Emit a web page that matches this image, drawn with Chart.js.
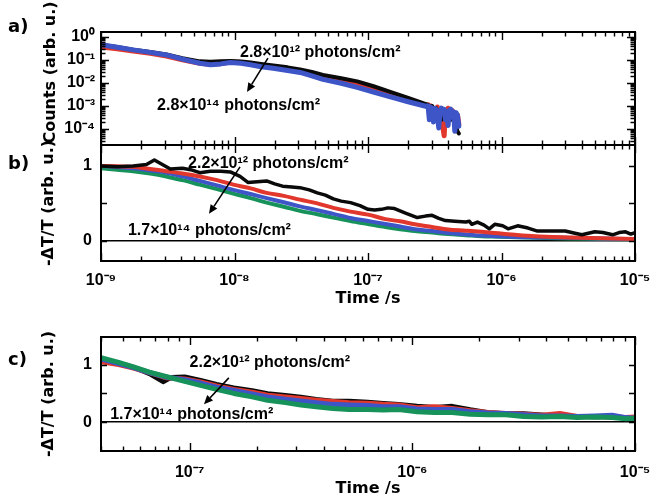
<!DOCTYPE html>
<html><head><meta charset="utf-8">
<script src="https://cdn.jsdelivr.net/npm/chart.js@4.4.1/dist/chart.umd.min.js"></script>
<style>
html,body{margin:0;padding:0;background:#fff;}
body{width:652px;height:500px;position:relative;overflow:hidden;}
.p{position:absolute;left:0;width:652px;}
canvas{display:block;}
</style></head><body>
<div class="p" style="top:0;height:145px"><canvas id="ca" width="652" height="145"></canvas></div>
<div class="p" style="top:135px;height:175px"><canvas id="cb" width="652" height="175"></canvas></div>
<div class="p" style="top:330px;height:170px"><canvas id="cc" width="652" height="170"></canvas></div>
<script>
// ================= DATA =================
// Panel a) counts vs time (s)
const aTime = [1.0e-9, 1.32e-9, 1.74e-9, 2.34e-9, 3.09e-9, 4.07e-9, 5.5e-9, 6.6e-9, 7.9e-9, 9.3e-9, 1.12e-8, 1.32e-8, 1.58e-8, 1.95e-8, 2.5e-8, 3.1e-8, 3.8e-8, 4.6e-8, 6.3e-8, 8.3e-8, 1.1e-7, 1.45e-7, 2.0e-7, 2.75e-7,
  2.82e-7, 2.88e-7, 2.95e-7, 3.02e-7, 3.09e-7, 3.16e-7, 3.24e-7, 3.31e-7, 3.39e-7, 3.47e-7, 3.55e-7, 3.63e-7, 3.72e-7, 3.80e-7, 3.89e-7, 3.98e-7, 4.07e-7, 4.17e-7, 4.27e-7, 4.37e-7, 4.47e-7, 4.57e-7, 4.68e-7, 4.79e-7];
const aBlack = [0.447, 0.355, 0.275, 0.219, 0.170, 0.117, 0.0851, 0.0813, 0.0851, 0.0891, 0.0832, 0.0759, 0.0661, 0.0562, 0.0468, 0.038, 0.0295, 0.0219, 0.0158, 0.0115, 0.00708, 0.00417, 0.00224, 0.00117,
  1.1e-3, 7.9e-4, 5.0e-4, 1.0e-3, 4.0e-4, 6.3e-4, 7.9e-4, 3.2e-4, 6.3e-4, 5.0e-4, 2.5e-4, 6.3e-4, 5.0e-4, 4.0e-4, 5.6e-4, 3.2e-4, 5.0e-4, 2.5e-4, 4.0e-4, 3.2e-4, 2.0e-4, 1.3e-4, 7.9e-5, 6.3e-5];
const aRed = [0.355, 0.302, 0.24, 0.191, 0.145, 0.1, 0.0708, 0.0631, 0.0692, 0.0794, 0.0759, 0.0661, 0.0562, 0.0479, 0.038, 0.0316, 0.0234, 0.0166, 0.0117, 0.00794, 0.00501, 0.00302, 0.00178, 0.00105,
  1.1e-3, 5.0e-4, 1.0e-3, 3.2e-4, 7.9e-4, 6.3e-4, 5.0e-4, 8.9e-4, 2.5e-4, 6.3e-4, 5.0e-4, 1.3e-4, 5.0e-5, 6.3e-4, 4.0e-4, 7.9e-4, 3.2e-4, 5.0e-4, 6.3e-4, 2.5e-4, 5.0e-4, 1.3e-4, 4.0e-4, 1.6e-4];
const aBlue = [0.447, 0.347, 0.269, 0.209, 0.162, 0.107, 0.0708, 0.0603, 0.0661, 0.0759, 0.0708, 0.0603, 0.0501, 0.0427, 0.0339, 0.0282, 0.02, 0.0141, 0.00955, 0.00631, 0.00398, 0.00251, 0.00151, 0.000933,
  1.0e-3, 2.5e-4, 8.9e-4, 6.3e-4, 2.0e-4, 7.9e-4, 7.1e-4, 4.0e-4, 1.1e-4, 6.3e-4, 7.9e-4, 5.0e-4, 7.1e-4, 2.5e-4, 5.6e-4, 1.4e-4, 6.3e-4, 7.1e-4, 3.2e-4, 5.6e-4, 7.9e-5, 5.0e-4, 4.0e-4, 1.3e-4];

// Panel b) -dT/T vs time (s)
const bTimeBlack = [1.0e-9, 1.32e-9, 1.74e-9, 2.19e-9, 2.51e-9, 2.88e-9, 3.31e-9, 4.07e-9, 4.68e-9, 5.5e-9, 6.6e-9, 7.9e-9, 9.3e-9, 1.1e-8, 1.26e-8, 1.48e-8, 1.74e-8, 2.0e-8, 2.29e-8, 2.69e-8, 3.09e-8, 3.63e-8, 4.17e-8, 4.79e-8, 5.5e-8, 6.3e-8, 7.4e-8, 8.7e-8, 1.0e-7, 1.12e-7, 1.26e-7, 1.41e-7, 1.58e-7, 1.91e-7, 2.34e-7, 2.69e-7, 3.02e-7, 3.39e-7, 3.8e-7, 4.47e-7, 5.4e-7, 5.75e-7, 6.0e-7, 6.6e-7, 7.4e-7, 8.1e-7, 8.9e-7, 1.02e-6, 1.12e-6, 1.32e-6, 1.58e-6, 1.86e-6, 2.4e-6, 3.0e-6, 3.55e-6, 4.0e-6, 5.0e-6, 5.75e-6, 6.8e-6, 7.6e-6, 8.5e-6, 9.3e-6, 1.0e-5];
const bBlack = [1.0, 0.99, 1.0, 1.02, 1.08, 1.02, 0.96, 0.97, 0.95, 0.91, 0.93, 0.93, 0.92, 0.86, 0.78, 0.79, 0.8, 0.76, 0.73, 0.72, 0.71, 0.68, 0.64, 0.61, 0.56, 0.53, 0.51, 0.47, 0.42, 0.41, 0.42, 0.44, 0.43, 0.37, 0.31, 0.33, 0.34, 0.3, 0.27, 0.26, 0.25, 0.26, 0.22, 0.25, 0.21, 0.16, 0.22, 0.2, 0.16, 0.2, 0.17, 0.13, 0.13, 0.13, 0.1, 0.08, 0.12, 0.11, 0.08, 0.11, 0.12, 0.09, 0.11];
const bTime = [1.0e-9, 1.32e-9, 1.74e-9, 2.34e-9, 3.09e-9, 4.07e-9, 5.5e-9, 7.4e-9, 9.8e-9, 1.32e-8, 1.74e-8, 2.34e-8, 3.09e-8, 4.17e-8, 5.5e-8, 7.4e-8, 1.0e-7, 1.35e-7, 1.74e-7, 2.24e-7, 3.02e-7, 3.98e-7, 5.4e-7, 7.1e-7, 9.5e-7, 1.26e-6, 1.78e-6, 3.16e-6, 5.6e-6, 1.0e-5];
const bRed = [1.0, 0.995, 0.99, 0.96, 0.93, 0.9, 0.86, 0.81, 0.75, 0.7, 0.64, 0.6, 0.55, 0.5, 0.44, 0.39, 0.35, 0.29, 0.26, 0.22, 0.185, 0.15, 0.135, 0.12, 0.1, 0.08, 0.06, 0.045, 0.035, 0.025];
const bBlue = [1.0, 0.985, 0.97, 0.94, 0.91, 0.86, 0.8, 0.74, 0.68, 0.625, 0.57, 0.515, 0.46, 0.41, 0.36, 0.305, 0.265, 0.225, 0.19, 0.155, 0.13, 0.105, 0.085, 0.07, 0.06, 0.05, 0.045, 0.04, 0.03, 0.02];
const bGreen = [0.97, 0.95, 0.93, 0.9, 0.86, 0.81, 0.75, 0.69, 0.63, 0.57, 0.51, 0.455, 0.4, 0.355, 0.31, 0.265, 0.225, 0.185, 0.155, 0.13, 0.11, 0.09, 0.075, 0.06, 0.055, 0.048, 0.04, 0.03, 0.025, 0.02];

// Panel c) -dT/T vs time (s)
const cTimeBlack = [4.0e-8, 4.8e-8, 5.6e-8, 6.6e-8, 7.6e-8, 8.3e-8, 9.5e-8, 1.12e-7, 1.32e-7, 1.58e-7, 1.91e-7, 2.24e-7, 2.69e-7, 3.16e-7, 3.7e-7, 4.4e-7, 5.2e-7, 6.3e-7, 7.4e-7, 8.7e-7, 1.05e-6, 1.26e-6, 1.51e-6, 1.82e-6, 2.19e-6, 2.63e-6, 3.16e-6, 3.8e-6, 4.6e-6, 5.5e-6, 6.6e-6, 7.9e-6, 9.1e-6, 1.0e-5];
const cBlack = [1.1, 1.03, 0.95, 0.84, 0.70, 0.78, 0.79, 0.73, 0.66, 0.6, 0.55, 0.5, 0.47, 0.44, 0.4, 0.37, 0.37, 0.35, 0.33, 0.31, 0.28, 0.26, 0.28, 0.22, 0.17, 0.15, 0.15, 0.13, 0.1, 0.1, 0.09, 0.1, 0.08, 0.07];
const cTime = [4.0e-8, 4.8e-8, 5.6e-8, 6.6e-8, 7.9e-8, 9.5e-8, 1.12e-7, 1.32e-7, 1.58e-7, 1.91e-7, 2.24e-7, 2.69e-7, 3.16e-7, 3.7e-7, 4.4e-7, 5.2e-7, 6.3e-7, 7.4e-7, 8.7e-7, 1.05e-6, 1.26e-6, 1.51e-6, 1.82e-6, 2.19e-6, 2.63e-6, 3.16e-6, 3.8e-6, 4.6e-6, 5.5e-6, 6.6e-6, 7.9e-6, 9.1e-6, 1.0e-5];
const cRed = [1.05, 1.0, 0.94, 0.86, 0.77, 0.75, 0.7, 0.63, 0.57, 0.52, 0.47, 0.44, 0.41, 0.38, 0.36, 0.34, 0.33, 0.31, 0.3, 0.25, 0.27, 0.24, 0.2, 0.17, 0.15, 0.14, 0.12, 0.15, 0.1, 0.1, 0.09, 0.08, 0.09];
const cBlue = [1.1, 1.02, 0.95, 0.86, 0.78, 0.74, 0.68, 0.61, 0.55, 0.49, 0.44, 0.4, 0.37, 0.34, 0.31, 0.3, 0.29, 0.27, 0.27, 0.23, 0.22, 0.22, 0.18, 0.16, 0.15, 0.13, 0.11, 0.11, 0.1, 0.11, 0.12, 0.08, 0.07];
const cGreen = [1.12, 1.04, 0.96, 0.87, 0.79, 0.71, 0.64, 0.57, 0.5, 0.44, 0.38, 0.34, 0.3, 0.27, 0.24, 0.22, 0.22, 0.21, 0.22, 0.18, 0.17, 0.17, 0.14, 0.13, 0.13, 0.1, 0.09, 0.1, 0.08, 0.09, 0.08, 0.06, 0.07];

// Tick labels
const aYDecades = [1e-4, 1e-3, 1e-2, 1e-1, 1e0];
const aYLabels = ['10⁻⁴', '10⁻³', '10⁻²', '10⁻¹', '10⁰'];
const bXDecades = [1e-9, 1e-8, 1e-7, 1e-6, 1e-5];
const bXLabels = ['10⁻⁹', '10⁻⁸', '10⁻⁷', '10⁻⁶', '10⁻⁵'];
const cXDecades = [1e-7, 1e-6, 1e-5];
const cXLabels = ['10⁻⁷', '10⁻⁶', '10⁻⁵'];
const linTicks = [0, 0.5, 1];
const linLabels = ['0', '', '1'];

// Text
const titleCounts = 'Counts (arb. u.)';
const titleDT = '-ΔT/T (arb. u.)';
const titleTime = 'Time /s';
const notesA = ['2.8×10¹² photons/cm²', '2.8×10¹⁴ photons/cm²'];
const notesBC = ['2.2×10¹² photons/cm²', '1.7×10¹⁴ photons/cm²'];

// ================= STYLE =================
const COL = {black: '#0a0a0a', red: '#e2372c', blue: '#3d55c6', green: '#16925a'};
const TICK_FONT = {family: "'Liberation Sans', Arial, sans-serif", size: 16, weight: 'bold'};
const TITLE_FONT = {family: "'DejaVu Sans', sans-serif", size: 16, weight: 'bold', lineHeight: 1};
const NOTE_FONT = "bold 16px 'Liberation Sans', Arial, sans-serif";
const PANEL_FONT = "bold 18px 'DejaVu Sans', sans-serif";
Chart.defaults.color = '#000';
Chart.defaults.animation = false;

function pts(xs, ys) { const n = Math.min(xs.length, ys.length); const o = []; for (let i = 0; i < n; i++) o.push({x: xs[i], y: ys[i]}); return o; }
function logTicks(min, max) {
  const out = [];
  for (let e = Math.floor(Math.log10(min)) ; e <= Math.ceil(Math.log10(max)); e++) {
    for (let m = 1; m <= 9; m++) { const v = m * Math.pow(10, e); if (v >= min * 0.999 && v <= max * 1.001) out.push(v); }
  }
  return out;
}
function isDecade(v) { const l = Math.log10(v); return Math.abs(l - Math.round(l)) < 1e-6; }
function decadeLabel(v, decades, labels) {
  for (let i = 0; i < decades.length; i++) if (Math.abs(Math.log10(v) - Math.log10(decades[i])) < 1e-6) return labels[i];
  return '';
}
function noPad(s) { s.paddingTop = 0; s.paddingBottom = 0; s.paddingLeft = 0; s.paddingRight = 0; }
function ds(data, color, width, smooth) {
  return {data, borderColor: color, borderWidth: width, pointRadius: 0, fill: false,
    tension: 0, cubicInterpolationMode: smooth ? 'monotone' : 'default', borderJoinStyle: 'round', borderCapStyle: 'round'};
}
function drawArrow(ctx, x1, y1, x2, y2) {
  const ang = Math.atan2(y2 - y1, x2 - x1), L = 9, W = 4;
  const bx = x2 - L * Math.cos(ang), by = y2 - L * Math.sin(ang);
  ctx.lineWidth = 1.6;
  ctx.beginPath(); ctx.moveTo(x1, y1); ctx.lineTo(bx, by); ctx.stroke();
  ctx.beginPath(); ctx.moveTo(x2, y2);
  ctx.lineTo(bx + W * Math.sin(ang), by - W * Math.cos(ang));
  ctx.lineTo(bx - W * Math.sin(ang), by + W * Math.cos(ang));
  ctx.closePath(); ctx.fill();
}
// plugin: frame, inward ticks, annotations, panel letter
function decor(cfg) {
  return {
    id: 'decor',
    afterDatasetsDraw(chart) {
      const {ctx, chartArea: a} = chart;
      const xs = chart.scales.x, ys = chart.scales.y;
      ctx.save();
      ctx.strokeStyle = '#000'; ctx.fillStyle = '#000';
      ctx.lineWidth = 1.4;
      ctx.beginPath();
      xs.ticks.forEach(t => {
        const px = Math.round(xs.getPixelForValue(t.value)) + 0.5;
        const len = isDecade(t.value) ? 8 : 4.5;
        ctx.moveTo(px, a.top); ctx.lineTo(px, a.top + len);
        ctx.moveTo(px, a.bottom); ctx.lineTo(px, a.bottom - len);
      });
      ys.ticks.forEach(t => {
        const py = Math.round(ys.getPixelForValue(t.value)) + 0.5;
        const len = cfg.logY ? (isDecade(t.value) ? 8 : 4.5) : 6;
        ctx.moveTo(a.left, py); ctx.lineTo(a.left + len, py);
        ctx.moveTo(a.right, py); ctx.lineTo(a.right - len, py);
      });
      ctx.stroke();
      ctx.lineWidth = 2;
      ctx.strokeRect(a.left, a.top, a.right - a.left, a.bottom - a.top);
      // annotations
      ctx.font = NOTE_FONT; ctx.textBaseline = 'alphabetic'; ctx.textAlign = 'left';
      cfg.notes.forEach(n => ctx.fillText(n.text, xs.getPixelForValue(n.t), ys.getPixelForValue(n.v)));
      const ar = cfg.arrow;
      drawArrow(ctx, xs.getPixelForValue(ar.t1), ys.getPixelForValue(ar.v1), xs.getPixelForValue(ar.t2), ys.getPixelForValue(ar.v2));
      // panel letter
      ctx.font = PANEL_FONT;
      ctx.fillText(cfg.letter, a.left - 93, a.top + cfg.letterDy);
      ctx.restore();
    }
  };
}
function yLinear(min, max) {
  return {
    type: 'linear', position: 'left', min, max,
    afterBuildTicks: s => { s.ticks = linTicks.map(v => ({value: v})); },
    afterFit: s => { s.width = 61; noPad(s); },
    grid: {drawTicks: false, lineWidth: 1.5, color: c => (c.tick && c.tick.value === 0) ? '#000' : 'rgba(0,0,0,0)'},
    border: {display: false},
    ticks: {padding: 9, font: TICK_FONT, color: '#000', callback: (v) => { const i = linTicks.indexOf(v); return i >= 0 ? linLabels[i] : ''; }},
    title: {display: true, text: titleDT, font: TITLE_FONT, color: '#000', padding: {top: 1, bottom: 0}}
  };
}
function xLog(min, max, decades, labels, pad) {
  return {
    type: 'logarithmic', position: 'bottom', min, max,
    afterBuildTicks: s => { s.ticks = logTicks(min, max).map(v => ({value: v})); },
    afterFit: s => { s.height = 49; noPad(s); },
    grid: {display: false, drawTicks: false},
    border: {display: false},
    ticks: {autoSkip: false, maxRotation: 0, minRotation: 0, padding: pad, font: TICK_FONT, color: '#000', callback: v => decadeLabel(v, decades, labels)},
    title: {display: true, text: titleTime, font: TITLE_FONT, color: '#000', padding: {top: 0, bottom: 3}}
  };
}
const common = {responsive: false, animation: false, events: []};

// ---------- Chart a ----------
new Chart(document.getElementById('ca'), {
  type: 'line',
  data: {datasets: [
    ds(pts(aTime, aBlue), COL.blue, 5, false),
    ds(pts(aTime, aBlack), COL.black, 4, false),
    ds(pts(aTime, aRed), COL.red, 5, false)
  ]},
  options: Object.assign({}, common, {
    layout: {padding: {left: 43, right: 17, top: 0, bottom: 0}, autoPadding: false},
    plugins: {legend: {display: false}, tooltip: {enabled: false},
      title: {display: true, position: 'left', text: titleCounts, font: TITLE_FONT, color: '#000', padding: 0}},
    scales: {
      x: {type: 'logarithmic', position: 'top', min: 1e-9, max: 1e-5,
        afterBuildTicks: s => { s.ticks = logTicks(1e-9, 1e-5).map(v => ({value: v})); },
        afterFit: s => { s.height = 32; noPad(s); },
        grid: {display: false, drawTicks: false}, border: {display: false}, ticks: {display: false}},
      y: {type: 'logarithmic', position: 'left', min: 2e-5, max: 1.6,
        afterBuildTicks: s => { s.ticks = logTicks(2e-5, 1.6).map(v => ({value: v})); },
        afterFit: s => { s.width = 42; noPad(s); },
        grid: {display: false, drawTicks: false}, border: {display: false},
        ticks: {autoSkip: false, padding: 6, font: TICK_FONT, color: '#000', callback: v => decadeLabel(v, aYDecades, aYLabels)}}
    }
  }),
  plugins: [decor({logY: true, letter: 'a)', letterDy: 0,
    notes: [{t: 1.1e-8, v: 0.13, text: notesA[0]}, {t: 2.63e-9, v: 6.6e-4, text: notesA[1]}],
    arrow: {t1: 1.78e-8, v1: 0.118, t2: 1.24e-8, v2: 0.004}})]
});

// ---------- Chart b ----------
new Chart(document.getElementById('cb'), {
  type: 'line',
  data: {datasets: [
    ds(pts(bTimeBlack, bBlack), COL.black, 3.5, false),
    ds(pts(bTime, bRed), COL.red, 4, true),
    ds(pts(bTime, bBlue), COL.blue, 4, true),
    ds(pts(bTime, bGreen), COL.green, 4, true)
  ]},
  options: Object.assign({}, common, {
    plugins: {legend: {display: false}, tooltip: {enabled: false}},
    layout: {padding: {left: 40, right: 17, top: 10, bottom: 0}, autoPadding: false},
    scales: {x: xLog(1e-9, 1e-5, bXDecades, bXLabels, 10), y: yLinear(-0.27, 1.28)}
  }),
  plugins: [decor({logY: false, letter: 'b)', letterDy: 24,
    notes: [{t: 4.49e-9, v: 0.973, text: notesBC[0]}, {t: 1.59e-9, v: 0.08, text: notesBC[1]}],
    arrow: {t1: 1.1e-8, v1: 0.987, t2: 6.44e-9, v2: 0.36}})]
});

// ---------- Chart c ----------
new Chart(document.getElementById('cc'), {
  type: 'line',
  data: {datasets: [
    ds(pts(cTime, cGreen), COL.green, 5, false),
    ds(pts(cTime, cBlue), COL.blue, 5, false),
    ds(pts(cTime, cRed), COL.red, 5, false),
    ds(pts(cTimeBlack, cBlack), COL.black, 4.5, false)
  ]},
  options: Object.assign({}, common, {
    plugins: {legend: {display: false}, tooltip: {enabled: false}},
    layout: {padding: {left: 40, right: 17, top: 7, bottom: 0}, autoPadding: false},
    scales: {x: xLog(4e-8, 1e-5, cXDecades, cXLabels, 12), y: yLinear(-0.5, 1.48)}
  }),
  plugins: [decor({logY: false, letter: 'c)', letterDy: 28,
    notes: [{t: 1.0e-7, v: 0.96, text: notesBC[0]}, {t: 4.4e-8, v: 0.057, text: notesBC[1]}],
    arrow: {t1: 1.5e-7, v1: 0.77, t2: 1.16e-7, v2: 0.31}})]
});
</script></body></html>
